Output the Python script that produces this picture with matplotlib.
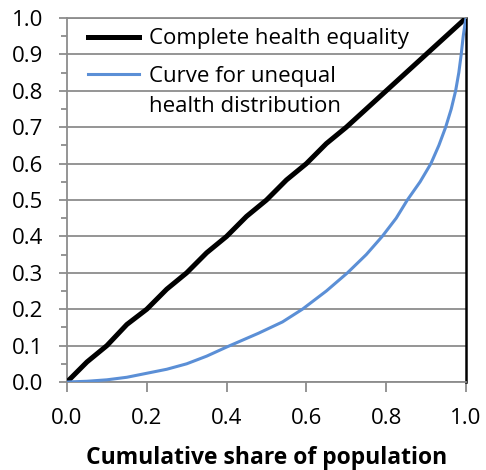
import numpy as np
import matplotlib.pyplot as plt
from matplotlib.ticker import MultipleLocator

# data
eq_x = [0.0, 0.05, 0.1, 0.15, 0.2, 0.25, 0.3, 0.35, 0.4, 0.45, 0.5,
        0.55, 0.6, 0.65, 0.7, 0.75, 0.8, 0.85, 0.9, 0.95, 1.0]
eq_y = [0.0, 0.055, 0.1, 0.158, 0.2, 0.255, 0.3, 0.355, 0.4, 0.455, 0.5,
        0.555, 0.6, 0.655, 0.7, 0.75, 0.8, 0.85, 0.9, 0.95, 1.0]

uneq_x = [0.0, 0.05, 0.1, 0.15, 0.2, 0.25, 0.3, 0.35, 0.4, 0.44, 0.48, 0.54,
          0.59, 0.65, 0.703, 0.75, 0.79, 0.825, 0.853, 0.885, 0.912, 0.932,
          0.949, 0.963, 0.974, 0.982, 0.988, 0.993, 0.997, 1.0]
uneq_y = [0.0, 0.002, 0.006, 0.013, 0.024, 0.035, 0.05, 0.071, 0.096, 0.115,
          0.134, 0.165, 0.2, 0.25, 0.3, 0.35, 0.4, 0.45, 0.5, 0.55, 0.6, 0.65,
          0.7, 0.75, 0.8, 0.85, 0.9, 0.95, 0.98, 1.0]

labels = ["Complete health equality", "Curve for unequal", "health distribution"]

plt.rcParams['font.family'] = ['Open Sans', 'DejaVu Sans']

fig = plt.figure(figsize=(4.86, 4.70), dpi=100)
ax = fig.add_axes([67 / 486, 1 - 382 / 470, 399 / 486, 364 / 470])

ax.plot(eq_x, eq_y, color='black', lw=3.6, label=labels[0], zorder=3,
        solid_joinstyle='round')
ax.plot(uneq_x, uneq_y, color='#5b8fd6', lw=2.2, label=labels[1], zorder=3,
        solid_joinstyle='round')

ax.set_xlim(0, 1)
ax.set_ylim(0, 1)
ax.xaxis.set_major_locator(MultipleLocator(0.2))
ax.yaxis.set_major_locator(MultipleLocator(0.1))
ax.yaxis.set_minor_locator(MultipleLocator(0.05))
ax.xaxis.set_major_formatter(lambda v, p: f"{v:.1f}")
ax.yaxis.set_major_formatter(lambda v, p: f"{v:.1f}")
ax.grid(axis='y', color='#8c8c8c', lw=1.3)
ax.set_axisbelow(True)

for s in ['left', 'bottom', 'top']:
    ax.spines[s].set_color('#8c8c8c')
    ax.spines[s].set_linewidth(1.3)
ax.spines['right'].set_color('black')
ax.spines['right'].set_linewidth(1.8)

ax.tick_params(axis='both', which='major', labelsize=16, color='#8c8c8c',
               width=1.3)
ax.tick_params(axis='y', which='major', length=6, pad=11)
ax.tick_params(axis='x', which='major', length=7, pad=12)
ax.tick_params(axis='y', which='minor', color='#8c8c8c', width=1.3, length=4)

ax.set_xlabel("Cumulative share of population", fontsize=16.5,
              fontweight='bold', labelpad=12)

leg = ax.legend(loc='upper left', frameon=False, fontsize=16, handlelength=2.3,
                handletextpad=0.45, borderaxespad=0.2, labelspacing=0.75,
                bbox_to_anchor=(0.02, 1.008))
# second line of the blue label sits under its first line, as in Excel
ax.annotate(labels[2], xy=(0, 0), xycoords=leg.get_texts()[1],
            xytext=(0, -30), textcoords='offset pixels', fontsize=16,
            ha='left', va='bottom', zorder=10)

fig.savefig('out.png', dpi=100)
